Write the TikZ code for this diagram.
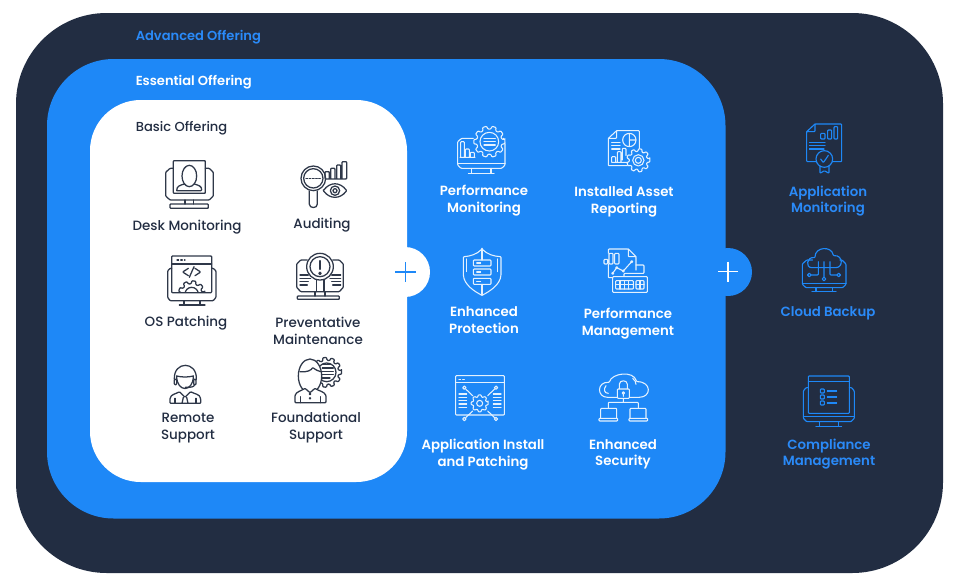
\documentclass[tikz,border=0pt]{standalone}
\usepackage{fontspec}
\setmainfont{Poppins}
\newfontfamily\medfont{Poppins Medium}
\newfontfamily\semifont{Poppins SemiBold}
\definecolor{navy}{HTML}{222D42}
\definecolor{brand}{HTML}{1E88F7}
\definecolor{brandtxt}{HTML}{2A8AF8}
\definecolor{inkline}{HTML}{2F3849}
\newcommand{\ls}{\vphantom{Ag}}
\newcommand{\gearicon}[6][]{%
  \pgfmathsetmacro\gs{360/#6}%
  \draw[#1] ({#2+#4*cos(-.22*\gs)},{#3+#4*sin(-.22*\gs)})
    \foreach \k in {1,...,#6}{
      -- ({#2+#4*cos((\k-1)*\gs+.22*\gs)},{#3+#4*sin((\k-1)*\gs+.22*\gs)})
      -- ({#2+#5*cos((\k-1)*\gs+.32*\gs)},{#3+#5*sin((\k-1)*\gs+.32*\gs)})
      -- ({#2+#5*cos((\k-1)*\gs+.68*\gs)},{#3+#5*sin((\k-1)*\gs+.68*\gs)})
      -- ({#2+#4*cos(\k*\gs-.22*\gs)},{#3+#4*sin(\k*\gs-.22*\gs)})
    } -- cycle;}
\tikzset{
  zoomat/.style args={#1,#2}{x=.25pt,y=-.25pt,xshift=#1*.75pt,yshift=-#2*.75pt},
  iconink/.style={line width=.95pt,line cap=round,line join=round,rounded corners=.6pt},
  lbl/.style={align=center,inner sep=0,yshift=-1.4pt,font=\medfont\fontsize{10.1}{12.5}\selectfont},
  basiclbl/.style={lbl,text=navy},
  esslbl/.style={lbl,text=white,font=\semifont\fontsize{10}{12.5}\selectfont},
  advlbl/.style={lbl,text=brandtxt,font=\semifont\fontsize{10}{12}\selectfont},
  headlbl/.style={anchor=west,inner sep=0,yshift=-1.4pt,font=\semifont\fontsize{9.8}{12}\selectfont},
}
\begin{document}
\begin{tikzpicture}[x=.75pt,y=-.75pt]
\useasboundingbox (0,0) rectangle (971,582);
% panels
\fill[navy,rounded corners=68pt] (16,13) rectangle (943,573);
\fill[brand] (728,272) circle (24);
\fill[brand,rounded corners=50pt] (47,59) rectangle (725.5,518.5);
\fill[white] (405,272) circle (25);
\fill[white,rounded corners=38pt] (90,100) rectangle (407,482);
% plus signs
\draw[brand,line width=1.1pt] (395,272) -- (416,272) (405.5,262) -- (405.5,282);
\draw[white,line width=1.1pt] (718,271.5) -- (738,271.5) (728,261.5) -- (728,282);
% headings
\node[headlbl,text=brandtxt] (adv) at (135.5,35.5) {\ls Advanced Offering};
\node[headlbl,text=white] (ess) at (135.5,80.5) {\ls Essential Offering};
\node[headlbl,text=navy,font=\medfont\fontsize{9.8}{12}\selectfont] (bas) at (135.5,126) {\ls Basic Offering};
% basic labels
\node[basiclbl] (l1) at (187,225.5) {\ls Desk Monitoring};
\node[basiclbl] (l2) at (322,223.5) {\ls Auditing};
\node[basiclbl] (l3) at (186,321.5) {\ls OS Patching};
\node[basiclbl] (l4) at (318,330.5) {\ls Preventative\\\ls Maintenance};
\node[basiclbl] (l5) at (188,426) {\ls Remote\\\ls Support};
\node[basiclbl] (l6) at (316,426) {\ls Foundational\\\ls Support};
% essential labels
\node[esslbl] (e1) at (484,199) {\ls Performance\\\ls Monitoring};
\node[esslbl] (e2) at (624,200) {\ls Installed Asset\\\ls Reporting};
\node[esslbl] (e3) at (484,320) {\ls Enhanced\\\ls Protection};
\node[esslbl] (e4) at (628,321.5) {\ls Performance\\\ls Management};
\node[esslbl] (e5) at (483,452.5) {\ls Application Install\\\ls and Patching};
\node[esslbl] (e6) at (623,452.5) {\ls Enhanced\\\ls Security};
% advanced labels
\node[advlbl] (a1) at (828,199.5) {\ls Application\\\ls Monitoring};
\node[advlbl] (a2) at (828,311.5) {\ls Cloud Backup};
\node[advlbl] (a3) at (829,452.5) {\ls Compliance\\\ls Management};

% ===== basic icons, zoom 1 frame
\begin{scope}[zoomat={120,110},iconink,draw=inkline]
 % desk monitoring
 \draw (160,175) -- (150,175) -- (137,187) -- (137,258) -- (150,270) -- (268,270) -- (280,258) -- (280,187) -- (268,175) -- (256,175);
 \draw (160,152) rectangle (256,250);
 \draw (195,270) -- (195,282) (220,270) -- (220,282);
 \draw (150,282) rectangle (265,295);
 \draw (208,198) ellipse (22 and 32);
 \draw (170,242) .. controls (170,228) and (180,226) .. (193,222) (223,222) .. controls (236,226) and (245,228) .. (245,242) -- (170,242);
 % auditing
 \draw (580,205) circle (37) (580,205) circle (29);
 \draw (568,243) -- (568,280) .. controls (568,296) and (592,296) .. (592,280) -- (592,243);
 \draw[dash pattern=on 1.2pt off 1.2pt] (558,205) -- (605,205);
 \draw (615,205) -- (615,185) -- (628,185) -- (628,205) (632,205) -- (632,175) -- (645,175) -- (645,205) (650,205) -- (650,165) -- (662,165) -- (662,205) (666,205) -- (666,155) -- (680,155) -- (680,207) -- (617,207);
 \draw (610,242) .. controls (630,215) and (660,215) .. (680,242) .. controls (660,268) and (630,268) .. (610,242) -- cycle;
 \draw (645,242) circle (14) (645,242) circle (6);
 % OS patching
 \draw (155,475) -- (150,475) -- (143,483) -- (143,562) -- (150,572) -- (280,572) -- (288,562) -- (288,483) -- (280,475) -- (275,475);
 \draw (155,548) -- (155,438) -- (275,438) -- (275,548) -- cycle;
 \draw (155,462) -- (275,462);
 \draw[dash pattern=on 1.2pt off 1.6pt] (171,450) -- (195,450);
 \draw (205,475) -- (188,486) -- (205,497) (225,475) -- (242,486) -- (225,497) (222,470) -- (208,502);
 \begin{scope}
  \clip (155,438) rectangle (275,548);
  \gearicon{215}{552}{40}{31}{9}
  \draw (215,552) circle (20);
 \end{scope}
 \draw (192,572) -- (192,585) (240,572) -- (240,585) (178,585) -- (255,585);
 % preventative
 \draw (562,450) -- (542,450) -- (530,462) -- (530,532) -- (542,545) -- (658,545) -- (670,532) -- (670,462) -- (658,450) -- (638,450);
 \draw (600,470) circle (40) (600,470) circle (30);
 \draw (590,510) -- (590,545) (612,510) -- (612,545);
 \draw (600,452) -- (600,478);
 \draw (600,490) circle (3.5);
 \draw (540,495) -- (565,495) (540,505) -- (572,505) (540,515) -- (565,515) (540,525) -- (562,525);
 \draw (635,495) -- (662,495) (630,505) -- (662,505) (635,515) -- (662,515) (638,525) -- (662,525);
 \draw (585,545) -- (585,558) (615,545) -- (615,558);
 \draw (532,558) rectangle (658,568);
\end{scope}
% zoom 2 frame
\begin{scope}[zoomat={120,290},iconink,draw=inkline]
 % remote support
 \draw (163,268) .. controls (160,212) and (232,212) .. (229,268);
 \draw (170,258) .. controls (170,308) and (220,308) .. (220,258);
 \draw (170,258) .. controls (185,262) and (205,262) .. (220,258);
 \draw (163,268) rectangle (170,284) (221,268) rectangle (228,284);
 \draw (224,284) .. controls (222,292) and (212,292) .. (196,292);
 \draw (150,340) -- (150,328) .. controls (152,312) and (168,312) .. (178,305) -- (195,322) -- (212,305) .. controls (224,312) and (240,312) .. (242,328) -- (242,340) -- cycle;
 \draw (190,322) -- (186,340) (200,322) -- (204,340);
 \draw (165,325) -- (165,340) (228,325) -- (228,340);
 % foundational
 \gearicon{620}{247}{45}{36}{11}
 \draw (620,247) circle (28);
 \draw (607,224) -- (632,224) (607,234) -- (640,234) (607,244) -- (640,244) (607,254) -- (640,254) (607,264) -- (630,264);
 \draw[fill=white] (570,258) ellipse (35 and 51);
 \draw (540,245) .. controls (560,248) and (575,240) .. (578,232) .. controls (585,240) and (595,242) .. (602,245);
 \draw[fill=white] (525,338) -- (525,318) .. controls (528,305) and (545,302) .. (555,295) -- (570,308) -- (585,295) .. controls (595,302) and (614,305) .. (618,318) -- (618,338) -- cycle;
 \draw (541,320) -- (541,338) (602,320) -- (602,338);
 \draw (570,312) circle (2) (570,325) circle (2);
\end{scope}

% ===== essential icons, zoom 3 frame
\begin{scope}[zoomat={420,115},iconink,line width=.8pt,draw=white!88!brand]
 % performance monitoring
 \draw (160,70) -- (125,70) -- (113,80) -- (113,150) -- (123,160) -- (245,160) -- (255,150) -- (255,85) -- (250,70);
 \draw (113,145) -- (255,145);
 \draw (155,160) -- (155,175) (213,160) -- (213,175) (145,175) -- (222,175);
 \gearicon[fill=brand]{208}{80}{47}{38}{10}
 \draw (208,80) circle (28);
 \draw (192,70) -- (226,70) (192,80) -- (226,80) (192,90) -- (226,90);
 \draw (122,127) -- (122,80) -- (133,80) -- (133,127) (136,127) -- (136,102) -- (148,102) -- (148,127) (151,127) -- (151,112) -- (163,112) -- (163,127) (120,127) -- (165,127);
 % installed asset
 \draw (622,152) -- (565,152) -- (565,70) -- (590,47) -- (658,47) -- (658,102);
 \draw (565,70) -- (590,70) -- (590,47);
 \draw (628,75) circle (20) (628,55) -- (628,95) (628,75) -- (648,75);
 \draw (575,82) -- (600,82) (575,92) -- (600,92) (575,102) -- (600,102);
 \draw (575,142) -- (575,125) -- (587,125) -- (587,142) (592,142) -- (592,110) -- (603,110) -- (603,142) (607,135) -- (607,100) -- (618,100) -- (618,122) (575,142) -- (620,142);
 \gearicon[fill=brand]{655}{136}{35}{27}{9}
 \draw (655,136) circle (17) (655,136) circle (9);
 % enhanced protection
 \draw (186,402) .. controls (170,418) and (150,424) .. (130,425) -- (130,478) .. controls (132,510) and (165,530) .. (186,541) .. controls (207,530) and (241,510) .. (243,478) -- (243,425) .. controls (222,424) and (202,418) .. (186,402) -- cycle;
 \draw (186,402) -- (186,435) (186,508) -- (186,541);
 \draw (140,432) -- (140,470) (232,432) -- (232,470);
 \draw (160,435) rectangle (213,453) (160,462) rectangle (213,480) (160,490) rectangle (213,508);
 \draw (170,444) -- (182,444) (170,471) -- (182,471) (170,499) -- (182,499);
 % performance management
 \draw (565,415) -- (565,402) -- (625,402) -- (648,425) -- (648,465);
 \draw (625,402) -- (625,425) -- (648,425);
 \draw (565,447) -- (565,488) -- (578,488);
 \draw (552,433) rectangle (563,447) (567,415) rectangle (579,447) (584,415) rectangle (597,447);
 \draw (578,475) -- (590,458) -- (610,468) -- (635,440);
 \draw[fill=brand] (578,475) circle (3) (590,458) circle (3) (610,468) circle (3) (635,440) circle (3);
 \draw (578,485) rectangle (682,532);
 \draw (587,497) rectangle (640,522) (648,497) rectangle (672,522);
 \draw (600,497) -- (600,522) (613,497) -- (613,522) (626,497) -- (626,522) (587,509) -- (640,509);
 \draw (660,497) -- (660,522) (648,509) -- (672,509);
 \draw (612,485) -- (612,475) -- (672,475) -- (672,450) -- (648,450);
\end{scope}
% zoom 5 frame
\begin{scope}[zoomat={420,365},iconink,line width=.8pt,draw=white!88!brand]
 % application install
 \draw (107,150) rectangle (253,32);
 \draw (107,52) -- (253,52);
 \draw[dash pattern=on 1.2pt off 1.6pt] (117,43) -- (138,43);
 \draw (137,72) -- (158,92) (224,72) -- (203,92) (137,158) -- (158,138) (224,158) -- (203,138);
 \gearicon[fill=brand]{179}{115}{26}{20}{8}
 \draw (179,115) circle (9);
 \draw (117,87) -- (140,87) (117,97) -- (140,97) (117,107) -- (140,107) (117,117) -- (140,117) (117,127) -- (140,127);
 \draw (220,87) -- (243,87) (220,97) -- (243,97) (220,107) -- (243,107) (220,117) -- (243,117) (220,127) -- (243,127);
 \draw[fill=brand] (133,68) circle (5) (228,68) circle (5) (133,162) circle (5) (228,162) circle (5);
 % enhanced security
 \draw (592,97) -- (565,97) .. controls (530,97) and (530,50) .. (568,52) .. controls (575,25) and (640,15) .. (650,50) .. controls (695,50) and (695,97) .. (655,97) -- (628,97);
 \draw (558,62) .. controls (550,72) and (552,85) .. (565,85);
 \draw (638,40) .. controls (645,45) and (648,52) .. (648,58);
 \draw[fill=brand] (598,72) -- (598,60) .. controls (598,44) and (622,44) .. (622,60) -- (622,72);
 \draw[fill=brand] (592,72) rectangle (628,100);
 \draw (610,84) circle (3.5) (610,88) -- (610,94);
 \draw (610,100) -- (610,112) (565,130) -- (565,112) -- (655,112) -- (655,130);
 \draw (542,160) -- (542,130) -- (590,130) -- (590,160);
 \draw (537,160) rectangle (593,168);
 \draw (630,160) -- (630,130) -- (678,130) -- (678,160);
 \draw (627,160) rectangle (683,168);
\end{scope}

% ===== advanced icons, zoom 6 frame
\begin{scope}[zoomat={700,115},iconink,line width=.85pt,draw=brand]
 % application monitoring
 \draw (350,140) -- (320,140) -- (320,50) -- (345,27) -- (425,27) -- (425,140) -- (397,140);
 \draw (320,50) -- (345,50) -- (345,27);
 \draw (362,55) rectangle (375,72) (383,45) rectangle (395,72) (402,35) rectangle (413,72);
 \draw (328,82) -- (375,82) (328,92) -- (375,92) (328,102) -- (372,102);
 \draw (373,132) circle (25);
 \draw (362,132) -- (370,143) -- (385,121);
 \draw (360,153) -- (360,175) -- (373,167) -- (387,175) -- (387,153);
 % cloud backup
 \draw (338,435) -- (320,435) -- (307,447) -- (307,508) -- (318,518) -- (428,518) -- (438,508) -- (438,447) -- (426,435) -- (420,435);
 \draw (307,505) -- (438,505);
 \draw (348,518) -- (348,530) (398,518) -- (398,530) (336,530) -- (408,530);
 \draw (338,458) .. controls (315,458) and (320,425) .. (345,428) .. controls (345,395) and (395,392) .. (400,422) .. controls (430,420) and (430,458) .. (405,458) -- cycle;
 \draw (372,440) -- (372,486) (355,440) -- (355,480) -- (334,480) (390,440) -- (390,480) -- (410,480);
 \draw (372,492) circle (5.5) (328,480) circle (5.5) (416,480) circle (5.5);
\end{scope}
% zoom 7 frame
\begin{scope}[zoomat={770,365},iconink,line width=.85pt,draw=brand]
 \draw (115,145) rectangle (238,33);
 \draw (115,50) -- (238,50);
 \draw (115,68) -- (108,68) -- (100,78) -- (100,160) -- (110,170) -- (243,170) -- (253,160) -- (253,78) -- (245,68) -- (238,68);
 \draw (100,155) -- (253,155);
 \draw (148,170) -- (148,183) (205,170) -- (205,183) (138,185) -- (215,185);
 \draw (151,72) rectangle (163,84) (151,90) rectangle (163,102) (151,108) rectangle (163,120);
 \draw (172,78) -- (200,78) (172,96) -- (200,96) (172,114) -- (200,114);
\end{scope}
\end{tikzpicture}
\end{document}
